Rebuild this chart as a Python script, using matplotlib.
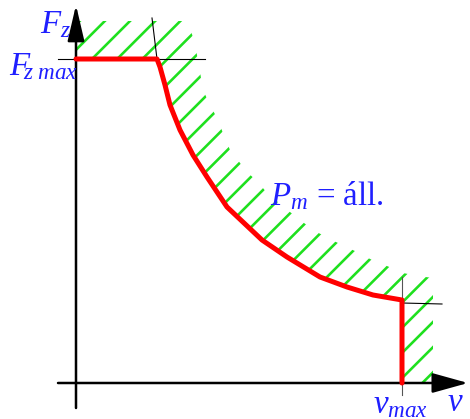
import numpy as np
import matplotlib
matplotlib.use('Agg')
import matplotlib.pyplot as plt
from matplotlib.patches import Polygon

# Traction characteristic: F_z(v) with constant power region, units ~ drawing units
v_curve = [0, 81, 84, 89, 94, 104, 117, 131, 151, 186, 211, 244, 271, 297, 326, 326]
F_curve = [324, 324, 316, 298, 278, 253, 228, 206, 176, 143, 126, 106, 96, 88, 83, 0]

# outer edge of the hatched (not reachable) band
v_outer = [0, 111, 117, 121, 124, 127, 134, 141, 147, 154, 171, 182, 191, 214, 237,
           252, 266, 281, 296, 311, 327, 342, 357, 357]
F_outer = [362, 362, 346, 328, 311, 293, 278, 265, 250, 233, 211, 201, 190, 171, 153,
           145, 138, 131, 123, 117, 110, 107, 105, 0]

v_max, F_max = 326, 324
BLUE = '#1f1fff'

DPI = 151
PT = 72 / DPI   # pixel -> point

plt.rcParams['mathtext.fontset'] = 'custom'
plt.rcParams['mathtext.rm'] = 'Liberation Serif'
plt.rcParams['mathtext.it'] = 'Liberation Serif:italic'
plt.rcParams['font.family'] = 'Liberation Serif'
plt.rcParams['hatch.linewidth'] = 2.6 * PT

fig = plt.figure(figsize=(470 / DPI, 419 / DPI), dpi=DPI)
ax = fig.add_axes([0, 0, 1, 1])
ax.set_xlim(-76, 394)
ax.set_ylim(-36, 383)
ax.axis('off')

# hatched band between the limit curve and the outer edge
band = list(zip(v_outer, F_outer)) + list(zip(v_curve[::-1], F_curve[::-1]))
ax.add_patch(Polygon(band, closed=True, facecolor='none', edgecolor='#1ee01e',
                     hatch='//', linewidth=0, zorder=1))

# axes with arrows
ax.annotate('', xy=(0, 378), xytext=(0, -25),
            arrowprops=dict(arrowstyle='-|>,head_length=1.8,head_width=0.42',
                            mutation_scale=17 * PT, lw=2.5 * PT, color='black',
                            shrinkA=0, shrinkB=0), zorder=3)
ax.annotate('', xy=(392, 0), xytext=(-18, 0),
            arrowprops=dict(arrowstyle='-|>,head_length=1.8,head_width=0.5',
                            mutation_scale=17 * PT, lw=2.5 * PT, color='black',
                            shrinkA=0, shrinkB=0), zorder=3)

# thin construction lines at the corners
ax.plot([-18, 129], [F_max, F_max], color='black', lw=1.1 * PT, zorder=2)
ax.plot([76, 81], [365, F_max], color='black', lw=1.1 * PT, zorder=2)
ax.plot([v_max, v_max], [-12, 106], color='#555555', lw=1.1 * PT, zorder=2)
ax.plot([v_max, 366], [80, 79], color='black', lw=1.1 * PT, zorder=2)

# limit curve
ax.plot(v_curve, F_curve, color='red', lw=5 * PT, solid_capstyle='round',
        solid_joinstyle='round', zorder=4)

fs = 33 * PT
ax.text(-36, 350, r'$F_z$', color=BLUE, fontsize=fs, ha='left', va='baseline')
ax.text(-67, 308, r'$F_{\!\!z\;max}$', color=BLUE, fontsize=fs, ha='left', va='baseline')
ax.text(194, 178, r'$P_m$ = áll.', color=BLUE, fontsize=fs, ha='left', va='baseline')
ax.text(297, -30, r'$v_{max}$', color=BLUE, fontsize=fs, ha='left', va='baseline')
ax.text(371, -28, r'$v$', color=BLUE, fontsize=fs, ha='left', va='baseline')

fig.savefig('out.png', dpi=DPI)
